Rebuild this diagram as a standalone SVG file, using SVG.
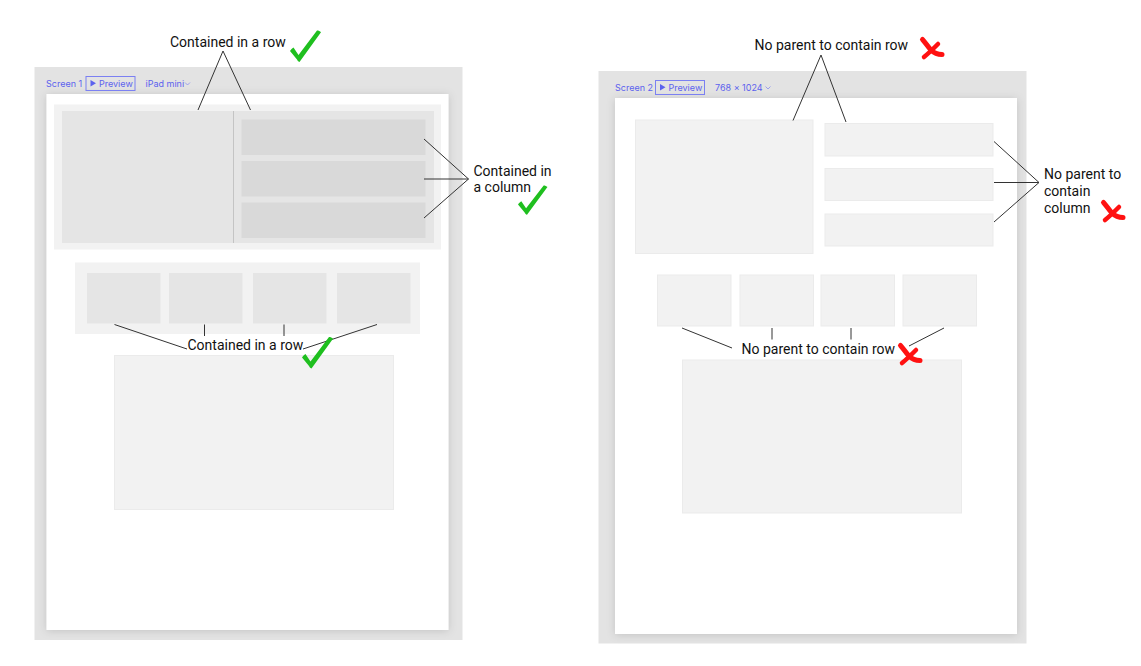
<svg xmlns="http://www.w3.org/2000/svg" width="1141" height="666" viewBox="0 0 1141 666">
  <style>
    .frame { fill: #e3e3e3; }
    .page { fill: #ffffff; filter: url(#panelShadow); }
    .hdr { font-family: Inter, "Noto Sans", sans-serif; font-size: 9px; fill: #5c62ee; }
    .btn { fill: none; stroke: #7b80f2; stroke-width: 1; }
    .chev { fill: none; stroke: #8a8ef0; stroke-width: 0.8; }
    .lbl { font-family: Roboto, "Liberation Sans", sans-serif; font-size: 14px; fill: #111111; }
    .wrap { fill: #f2f2f2; }
    .cell { fill: #e5e5e5; }
    .sub { fill: #d9d9d9; }
    .loose { fill: #f2f2f2; stroke: #ebebeb; stroke-width: 1; }
    .conn { fill: none; stroke: #333333; stroke-width: 1; }
    .ok { fill: #1fbf1f; }
    .bad { fill: none; stroke: #ff1111; stroke-linecap: round; stroke-linejoin: round; }
  </style>
  <defs>
    <filter id="panelShadow" x="-5%" y="-5%" width="110%" height="110%">
      <feDropShadow dx="0" dy="1" stdDeviation="4" flood-color="#000000" flood-opacity="0.14"/>
    </filter>
    <!-- hand-drawn check mark, 31 x 32 -->
    <path id="check" d="M0,21 C1,19.5 2,18.5 3.5,17.5 L8.5,25 L27,0.5 C28.5,0.5 30,1.2 31,2.2 L9.5,32 C8,31.5 7.5,30.5 7,29.5 Z"/>
    <!-- hand-drawn cross, about 24 x 22 -->
    <g id="cross">
      <path d="M2.5,2.5 C5,5 8,10 11,13 C14,16 18,17.5 22,17.5" stroke-width="5"/>
      <path d="M18,7 C14,11 9,16 4,20" stroke-width="4.5"/>
    </g>
  </defs>

  <!-- Screen 1 -->
  <g id="screen1">
    <rect class="frame" x="34.5" y="67" width="428" height="573"/>
    <rect class="page" x="46.5" y="94" width="402" height="536"/>
    <text class="hdr" x="46" y="87">Screen 1</text>
    <rect class="btn" x="86" y="76.5" width="49" height="14"/>
    <path d="M90.5,80 L96,83.3 L90.5,86.6 Z" fill="#5c62ee"/>
    <text class="hdr" x="99" y="86.5">Preview</text>
    <text class="hdr" x="145.5" y="87">iPad mini</text>
    <polyline class="chev" points="185,82.5 187.5,85 190,82.5"/>
  </g>

  <g id="s1-top-row">
    <rect class="wrap" x="54" y="104.5" width="387" height="145"/>
    <rect class="cell" x="62" y="111" width="372" height="132"/>
    <line x1="233.5" y1="111" x2="233.5" y2="243" stroke="#c4c4c4" stroke-width="1"/>
  </g>
  <g id="s1-column">
    <rect class="sub" x="241.5" y="119.5" width="184" height="35.5"/>
    <rect class="sub" x="241.5" y="161" width="184" height="35.5"/>
    <rect class="sub" x="241.5" y="202.5" width="184" height="35.5"/>
  </g>
  <g id="s1-second-row">
    <rect class="wrap" x="75" y="262.5" width="345" height="71.5"/>
    <rect class="cell" x="87" y="273" width="73.5" height="50.5"/>
    <rect class="cell" x="169" y="273" width="73.5" height="50.5"/>
    <rect class="cell" x="253" y="273" width="73.5" height="50.5"/>
    <rect class="cell" x="337" y="273" width="73.5" height="50.5"/>
  </g>
  <g id="s1-bottom-box">
    <rect class="loose" x="114.5" y="355.5" width="279" height="154"/>
  </g>

  <!-- Screen 2 -->
  <g id="screen2">
    <rect class="frame" x="598.5" y="71" width="428" height="572.5"/>
    <rect class="page" x="615" y="98" width="402" height="536"/>
    <text class="hdr" x="615" y="91">Screen 2</text>
    <rect class="btn" x="655.5" y="80.5" width="49" height="14"/>
    <path d="M660,84 L665.5,87.3 L660,90.6 Z" fill="#5c62ee"/>
    <text class="hdr" x="668.5" y="90.5">Preview</text>
    <text class="hdr" x="715" y="91">768 × 1024</text>
    <polyline class="chev" points="765.5,86.5 768,89 770.5,86.5"/>
  </g>

  <g id="s2-hero">
    <rect class="loose" x="635.5" y="120" width="177.5" height="133.5"/>
  </g>
  <g id="s2-stack">
    <rect class="loose" x="825" y="123.5" width="168" height="32.5"/>
    <rect class="loose" x="825" y="168.5" width="168" height="32"/>
    <rect class="loose" x="825" y="214" width="168" height="32"/>
  </g>
  <g id="s2-tiles">
    <rect class="loose" x="657.5" y="275" width="73.5" height="51"/>
    <rect class="loose" x="740" y="275" width="73.5" height="51"/>
    <rect class="loose" x="821" y="275" width="73.5" height="51"/>
    <rect class="loose" x="903" y="275" width="73.5" height="51"/>
  </g>
  <g id="s2-bottom-box">
    <rect class="loose" x="682.5" y="360" width="279" height="153"/>
  </g>

  <!-- leader lines -->
  <g id="connectors">
    <polyline class="conn" points="198,110 223,51 250.5,110"/>
    <polyline class="conn" points="424,139 468.5,179 424,218"/>
    <line class="conn" x1="424" y1="179" x2="468.5" y2="179"/>
    <line class="conn" x1="114.5" y1="324.5" x2="187" y2="349"/>
    <line class="conn" x1="204.5" y1="324.5" x2="204.5" y2="336"/>
    <line class="conn" x1="284" y1="324.5" x2="284" y2="336"/>
    <line class="conn" x1="377" y1="324.5" x2="303" y2="349"/>

    <polyline class="conn" points="793,120.5 821,55 846,122"/>
    <polyline class="conn" points="994,141.5 1039,182.5 994,222"/>
    <line class="conn" x1="994" y1="182.5" x2="1039" y2="182.5"/>
    <line class="conn" x1="682" y1="328" x2="732" y2="348"/>
    <line class="conn" x1="772" y1="328" x2="772" y2="339.5"/>
    <line class="conn" x1="851" y1="328" x2="851" y2="339.5"/>
    <line class="conn" x1="944" y1="328" x2="909" y2="346"/>
  </g>

  <!-- annotations -->
  <g id="note-row-1">
    <text class="lbl" x="170" y="47">Contained in a row</text>
    <use href="#check" class="ok" x="290" y="30"/>
  </g>
  <g id="note-column-1">
    <text class="lbl" x="473.5" y="176">Contained in</text>
    <text class="lbl" x="473.5" y="192">a column</text>
    <use href="#check" class="ok" transform="translate(518,185) scale(0.95,0.93)"/>
  </g>
  <g id="note-row-2">
    <text class="lbl" x="187.5" y="350">Contained in a row</text>
    <use href="#check" class="ok" x="302" y="336.5"/>
  </g>

  <g id="note-row-3">
    <text class="lbl" x="754.5" y="50">No parent to contain row</text>
    <use href="#cross" class="bad" x="920" y="37"/>
  </g>
  <g id="note-column-2">
    <text class="lbl" x="1044" y="178.5">No parent to</text>
    <text class="lbl" x="1044" y="195.5">contain</text>
    <text class="lbl" x="1044" y="212.5">column</text>
    <use href="#cross" class="bad" x="1101" y="200"/>
  </g>
  <g id="note-row-4">
    <text class="lbl" x="741.5" y="353.5">No parent to contain row</text>
    <use href="#cross" class="bad" x="898" y="343"/>
  </g>
</svg>
